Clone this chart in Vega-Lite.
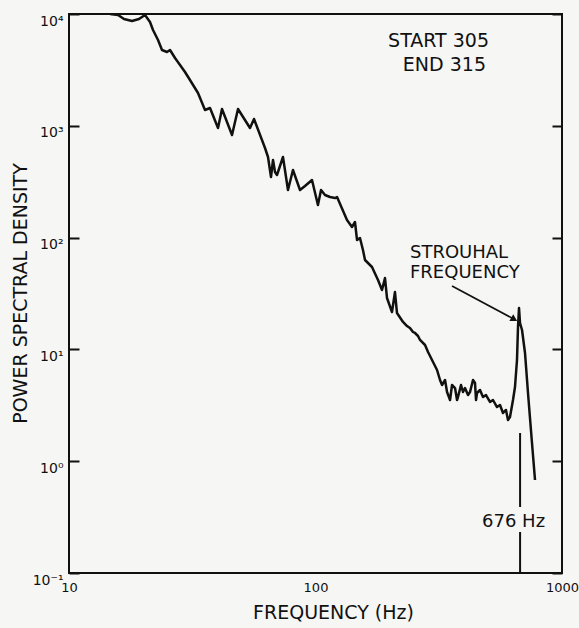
{
  "$schema": "https://vega.github.io/schema/vega-lite/v6.json",
  "width": 493,
  "height": 559,
  "autosize": {"type": "none"},
  "padding": {"left": 69, "top": 14, "right": 17, "bottom": 55},
  "background": "#f6f6f4",
  "config": {
    "view": {"stroke": "#111", "strokeWidth": 2},
    "font": "DejaVu Sans",
    "axis": {"grid": false, "domain": false, "labelFont": "DejaVu Sans", "titleFont": "DejaVu Sans", "labelColor": "#111", "titleColor": "#111", "tickColor": "#111"}
  },
  "datasets": {
    "curve": [
      {"f": 14.67, "p": 10000}, {"f": 15.81, "p": 9796}, {"f": 16.72, "p": 9021}, {"f": 18.01, "p": 8658},
      {"f": 19.23, "p": 9021}, {"f": 20.34, "p": 9796}, {"f": 21.31, "p": 8480}, {"f": 21.92, "p": 7192},
      {"f": 22.97, "p": 5854}, {"f": 23.84, "p": 4764}, {"f": 24.98, "p": 4573}, {"f": 25.69, "p": 4764},
      {"f": 26.92, "p": 4041}, {"f": 28.21, "p": 3498}, {"f": 29.55, "p": 3028}, {"f": 30.96, "p": 2569},
      {"f": 33.37, "p": 1965}, {"f": 35.62, "p": 1385}, {"f": 37.33, "p": 1443}, {"f": 40.23, "p": 955.7},
      {"f": 41.75, "p": 1414}, {"f": 45.85, "p": 827.7}, {"f": 48.49, "p": 1414}, {"f": 54.24, "p": 955.7},
      {"f": 56.3, "p": 1150}, {"f": 62.4, "p": 633}, {"f": 64.17, "p": 526}, {"f": 65.99, "p": 348.3},
      {"f": 67.24, "p": 494.5}, {"f": 68.5, "p": 386.3}, {"f": 69.79, "p": 363}, {"f": 73.8, "p": 526},
      {"f": 77.33, "p": 266.6}, {"f": 81.02, "p": 402.5}, {"f": 86.53, "p": 266.6}, {"f": 90.66, "p": 289.4},
      {"f": 96.78, "p": 327.6}, {"f": 102.3, "p": 195.7}, {"f": 105.3, "p": 266.6}, {"f": 109.3, "p": 240.4},
      {"f": 114.5, "p": 230.7}, {"f": 120.0, "p": 226}, {"f": 122.3, "p": 230.7}, {"f": 134.2, "p": 143.7},
      {"f": 140.6, "p": 124.4}, {"f": 144.6, "p": 137.9}, {"f": 147.4, "p": 95.2}, {"f": 151.5, "p": 99.2},
      {"f": 155.8, "p": 77.45}, {"f": 158.8, "p": 63.04}, {"f": 169.5, "p": 54.58}, {"f": 179.3, "p": 41.76},
      {"f": 186.1, "p": 33.99}, {"f": 191.4, "p": 43.51}, {"f": 195.0, "p": 28.83}, {"f": 204.3, "p": 21.6},
      {"f": 210.1, "p": 32.61}, {"f": 214.1, "p": 21.16}, {"f": 226.5, "p": 17.59}, {"f": 235.1, "p": 16.19},
      {"f": 241.7, "p": 15.54}, {"f": 248.6, "p": 14.31}, {"f": 253.3, "p": 14.02}, {"f": 260.6, "p": 13.18},
      {"f": 265.5, "p": 12.14}, {"f": 278.2, "p": 10.95}, {"f": 286.1, "p": 9.478}, {"f": 297.0, "p": 8.04},
      {"f": 311.2, "p": 6.543}, {"f": 320.0, "p": 5.325}, {"f": 326.1, "p": 4.804}, {"f": 335.4, "p": 5.325},
      {"f": 341.7, "p": 4.159}, {"f": 351.4, "p": 3.527}, {"f": 358.0, "p": 4.804}, {"f": 368.2, "p": 4.514},
      {"f": 375.1, "p": 3.527}, {"f": 378.5, "p": 3.751}, {"f": 389.3, "p": 4.804}, {"f": 396.6, "p": 4.159},
      {"f": 404.1, "p": 4.514}, {"f": 415.6, "p": 3.909}, {"f": 423.5, "p": 4.159}, {"f": 435.5, "p": 5.325},
      {"f": 443.7, "p": 5.005}, {"f": 447.9, "p": 3.527}, {"f": 452.1, "p": 4.074}, {"f": 464.9, "p": 4.334},
      {"f": 478.1, "p": 3.751}, {"f": 491.7, "p": 3.909}, {"f": 510.4, "p": 3.385}, {"f": 524.9, "p": 3.527},
      {"f": 544.9, "p": 3.053}, {"f": 560.4, "p": 3.182}, {"f": 576.3, "p": 2.699}, {"f": 592.6, "p": 2.871},
      {"f": 603.8, "p": 2.336}, {"f": 615.2, "p": 2.485}, {"f": 632.7, "p": 3.527}, {"f": 644.6, "p": 4.609},
      {"f": 656.8, "p": 8.04}, {"f": 663.0, "p": 15.86}, {"f": 669.3, "p": 23.46}, {"f": 675.6, "p": 17.22},
      {"f": 688.4, "p": 14.91}, {"f": 707.9, "p": 9.286}, {"f": 727.9, "p": 4.074}, {"f": 755.6, "p": 1.455},
      {"f": 777.2, "p": 0.679}
    ],
    "marker": [
      {"f": 676, "p1": 1.787, "p2": 0.3894},
      {"f": 676, "p1": 0.2326, "p2": 0.1}
    ],
    "arrow": [
      {"f1": 358.0, "p1": 36.9, "f2": 640, "p2": 18.6}
    ],
    "head": [
      {"f": 640, "p": 18.6}
    ],
    "textLeft": [
      {"f": 241.7, "p": 72.8, "t": "STROUHAL"},
      {"f": 241.7, "p": 48.25, "t": "FREQUENCY"},
      {"f": 473.8, "p": 0.2859, "t": "676 Hz"}
    ],
    "textRight": [
      {"f": 505.7, "p": 5734, "t": "START 305"},
      {"f": 491.7, "p": 3498, "t": "END 315"}
    ]
  },
  "layer": [
    {
      "data": {"name": "curve"},
      "mark": {"type": "line", "color": "#111", "strokeWidth": 2.5, "clip": true, "strokeJoin": "round"},
      "encoding": {
        "x": {"field": "f", "type": "quantitative",
              "scale": {"type": "log", "domain": [10, 1000], "nice": false},
              "axis": {"values": [10, 100, 1000], "format": "d", "ticks": false, "labelPadding": 8, "labelFontSize": 13, "title": "FREQUENCY (Hz)", "titleFontSize": 19, "titleFontWeight": "normal", "titleX": 264, "titleY": 49, "titleBaseline": "bottom", "labelFlush": false}},
        "y": {"field": "p", "type": "quantitative",
              "scale": {"type": "log", "domain": [0.1, 10000], "nice": false},
              "axis": {"orient": "left", "values": [0.1, 1, 10, 100, 1000, 10000], "tickSize": -10, "tickWidth": 2, "labelPadding": 16, "labelFontSize": 14, "labelBaseline": "top",
                       "labelExpr": "datum.value >= 5000 ? '10⁴' : datum.value >= 500 ? '10³' : datum.value >= 50 ? '10²' : datum.value >= 5 ? '10¹' : datum.value >= 0.5 ? '10⁰' : '10⁻¹'",
                       "title": "POWER SPECTRAL DENSITY", "titleFontSize": 19, "titleFontWeight": "normal", "titleX": -49, "titleY": 279, "titleBaseline": "middle"}}
      }
    },
    {
      "data": {"name": "marker"},
      "mark": {"type": "rule", "color": "#111", "strokeWidth": 2},
      "encoding": {
        "x": {"field": "f", "type": "quantitative"},
        "y": {"field": "p1", "type": "quantitative", "axis": {"orient": "right", "values": [0.1, 1, 10, 100, 1000, 10000], "tickSize": -10, "tickWidth": 2, "labels": false, "title": null}},
        "y2": {"field": "p2"}
      }
    },
    {
      "data": {"name": "arrow"},
      "mark": {"type": "rule", "color": "#111", "strokeWidth": 1.6},
      "encoding": {
        "x": {"field": "f1", "type": "quantitative"},
        "y": {"field": "p1", "type": "quantitative", "axis": null},
        "x2": {"field": "f2"},
        "y2": {"field": "p2"}
      }
    },
    {
      "data": {"name": "head"},
      "mark": {"type": "point", "shape": "triangle-right", "angle": 30, "size": 60, "filled": true, "color": "#111", "opacity": 1},
      "encoding": {
        "x": {"field": "f", "type": "quantitative"},
        "y": {"field": "p", "type": "quantitative", "axis": null}
      }
    },
    {
      "data": {"name": "textLeft"},
      "mark": {"type": "text", "align": "left", "baseline": "middle", "fontSize": 18, "color": "#111"},
      "encoding": {
        "x": {"field": "f", "type": "quantitative"},
        "y": {"field": "p", "type": "quantitative", "axis": null},
        "text": {"field": "t"}
      }
    },
    {
      "data": {"name": "textRight"},
      "mark": {"type": "text", "align": "right", "baseline": "middle", "fontSize": 19, "color": "#111"},
      "encoding": {
        "x": {"field": "f", "type": "quantitative"},
        "y": {"field": "p", "type": "quantitative", "axis": null},
        "text": {"field": "t"}
      }
    }
  ],
  "resolve": {"axis": {"y": "independent"}}
}
